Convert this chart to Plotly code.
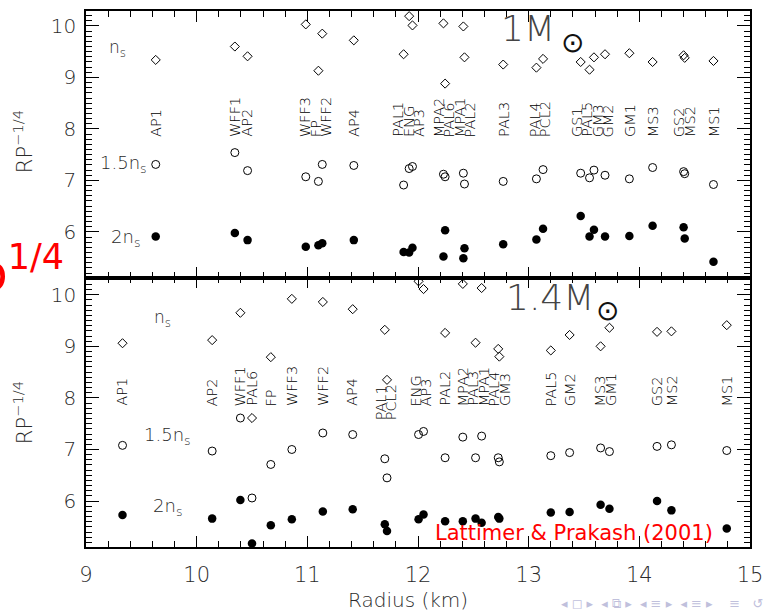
import plotly.graph_objects as go

# ---------------- data: 1 M_sun panel ----------------
names_1 = ["AP1", "WFF1", "AP2", "WFF3", "FP", "WFF2", "AP4", "PAL1", "ENG", "AP3",
           "MPA2", "PAL6", "MPA1", "PAL2", "PAL3", "PAL4", "PCL2", "GS1", "PAL5", "GM3",
           "GM2", "GM1", "MS3", "GS2", "MS2", "MS1"]
R_1 = [9.63, 10.345, 10.46, 10.986, 11.10, 11.135, 11.42, 11.87, 11.92, 11.95,
       12.23, 12.245, 12.41, 12.42, 12.77, 13.07, 13.13, 13.47, 13.55, 13.59,
       13.69, 13.91, 14.12, 14.40, 14.41, 14.67]
ns_1 = [9.34, 9.60, 9.41, 10.03, 9.13, 9.85, 9.72, 9.45, 10.19, 10.01,
        10.05, 8.88, 9.99, 9.39, 9.25, 9.19, 9.36, 9.30, 9.15, 9.39,
        9.45, 9.47, 9.30, 9.43, 9.38, 9.32]
n15_1 = [7.31, 7.54, 7.19, 7.07, 6.98, 7.31, 7.29, 6.91, 7.23, 7.27,
         7.12, 7.07, 7.14, 6.93, 6.98, 7.03, 7.21, 7.14, 7.05, 7.20,
         7.10, 7.03, 7.25, 7.17, 7.13, 6.92]
n2_1 = [5.91, 5.98, 5.84, 5.71, 5.74, 5.78, 5.84, 5.61, 5.60, 5.69,
        5.52, 6.03, 5.49, 5.68, 5.76, 5.85, 6.06, 6.31, 5.91, 6.04,
        5.91, 5.92, 6.12, 6.09, 5.87, 5.42]

# ---------------- data: 1.4 M_sun panel ----------------
names_2 = ["AP1", "AP2", "WFF1", "PAL6", "FP", "WFF3", "WFF2", "AP4", "PAL1", "PCL2",
           "ENG", "AP3", "PAL2", "MPA2", "PAL3", "MPA1", "PAL4", "GM3", "PAL5", "GM2",
           "MS3", "GM1", "GS2", "MS2", "MS1"]
R_2 = [9.33, 10.14, 10.395, 10.50, 10.67, 10.86, 11.14, 11.41, 11.70, 11.72,
       12.005, 12.05, 12.245, 12.405, 12.52, 12.575, 12.725, 12.735, 13.20, 13.37,
       13.65, 13.73, 14.16, 14.29, 14.79]
ns_2 = [9.06, 9.12, 9.65, 7.61, 8.79, 9.92, 9.86, 9.72, 9.32, 8.35,
        10.26, 10.11, 9.26, 10.21, 9.07, 10.13, 8.95, 8.80, 8.92, 9.22,
        9.00, 9.36, 9.28, 9.29, 9.41]
n15_2 = [7.08, 6.97, 7.61, 6.06, 6.71, 7.00, 7.32, 7.29, 6.82, 6.45,
         7.29, 7.35, 6.84, 7.24, 6.84, 7.26, 6.84, 6.76, 6.88, 6.94,
         7.03, 6.96, 7.06, 7.09, 6.98]
n2_2 = [5.73, 5.66, 6.02, 5.18, 5.53, 5.65, 5.80, 5.84, 5.55, 5.42,
        5.65, 5.74, 5.61, 5.61, 5.66, 5.58, 5.69, 5.66, 5.78, 5.79,
        5.93, 5.85, 6.00, 5.82, 5.47]

label_base = 7.8                       # label start (value of RP^-1/4)
label_base_override_2 = {"PAL1": 7.53, "PCL2": 7.53}

x_ticks = [9, 10, 11, 12, 13, 14, 15]
y_ticks = [6, 7, 8, 9, 10]

# ---------------- layout geometry ----------------
W, H = 772, 613
ML, MR, MT, MB = 86, 15, 9, 66
PW, PH = W - ML - MR, H - MT - MB
SPLIT = (H - MB - 276.7) / PH

FONT = "DejaVu Sans"
TXT = "#2a2a2a"
THIN = 200


def px(xp, yp):
    """pixel -> paper coordinates (for decorative text only)"""
    return (xp - ML) / PW, (H - MB - yp) / PH


def spread(xs, sep):
    """spread label positions so that neighbouring labels are at least sep apart"""
    order = sorted(range(len(xs)), key=lambda i: xs[i])
    clusters = []

    def pos(c):
        m = sum(xs[i] for i in c) / len(c)
        s = m - sep * (len(c) - 1) / 2
        return [s + k * sep for k in range(len(c))]

    for i in order:
        clusters.append([i])
        while len(clusters) > 1 and pos(clusters[-1])[0] - pos(clusters[-2])[-1] < sep * 0.999:
            b = clusters.pop()
            clusters[-1] = clusters[-1] + b
    out = [0.0] * len(xs)
    for c in clusters:
        for i, p in zip(c, pos(c)):
            out[i] = p
    return out


fig = go.Figure()

mk_d = dict(symbol="diamond-open", size=7, color="black", line=dict(width=1, color="black"))
mk_o = dict(symbol="circle-open", size=8, color="black", line=dict(width=1, color="black"))
mk_f = dict(symbol="circle", size=8.5, color="black", line=dict(width=0))

for R, a, b, c, xa, ya in [(R_1, ns_1, n15_1, n2_1, "x", "y"), (R_2, ns_2, n15_2, n2_2, "x2", "y2")]:
    for vals, mk in [(a, mk_d), (b, mk_o), (c, mk_f)]:
        fig.add_trace(go.Scatter(x=R, y=vals, mode="markers", marker=mk,
                                 xaxis=xa, yaxis=ya, showlegend=False, hoverinfo="skip"))

ann = []
sep = 0.094
for names, R, xref, yref, over in [(names_1, R_1, "x", "y", {}),
                                   (names_2, R_2, "x2", "y2", label_base_override_2)]:
    lx = spread(R, sep)
    for n, x in zip(names, lx):
        ann.append(dict(x=x, y=over.get(n, label_base), xref=xref, yref=yref, text=n,
                        textangle=-90, xanchor="center", yanchor="bottom", showarrow=False,
                        font=dict(family=FONT, size=14.5, color="#000000", weight=THIN)))


def txt(xp, yp, text, size, color=TXT, xanchor="center", yanchor="middle", angle=0, weight=THIN):
    x, y = px(xp, yp)
    f = dict(family=FONT, size=size, color=color)
    if weight:
        f["weight"] = weight
    ann.append(dict(x=x, y=y, xref="paper", yref="paper", text=text, showarrow=False,
                    xanchor=xanchor, yanchor=yanchor, textangle=angle, font=f))


# density labels
txt(118, 47, "n<sub>s</sub>", 17)
txt(124, 163, "1.5n<sub>s</sub>", 18)
txt(126, 237, "2n<sub>s</sub>", 18)
txt(163, 318, "n<sub>s</sub>", 17)
txt(168, 436, "1.5n<sub>s</sub>", 18)
txt(168, 507, "2n<sub>s</sub>", 18)
# mass labels
txt(562, 27, "1M", 36, color="#444444", xanchor="right")
txt(578, 41, "⊙", 28, color="#111111")
txt(601, 297, "1.4M", 36, color="#444444", xanchor="right")
txt(613, 310, "⊙", 28, color="#111111")
# axis titles
txt(22, 140, "RP<sup>−1/4</sup>", 21, angle=-90)
txt(22, 412, "RP<sup>−1/4</sup>", 21, angle=-90)
txt(411, 600, "Radius (km)", 20)
# citation
txt(579, 533, "Lattimer & Prakash (2001)", 21, color="#ff0000", weight=None)
# slide remnants
txt(66, 268, "p<sup>1/4</sup>", 50, color="#ff0000", xanchor="right", weight=None)
txt(772, 604, "◂ ◻ ▸  ◂ ⧉ ▸  ◂ ≡ ▸  ◂ ≡ ▸    ≡   ↺", 13, color="#c0c0dc", xanchor="right", weight=None)

ax_common = dict(showline=True, linewidth=1.5, linecolor="black", mirror="allticks",
                 ticks="inside", tickwidth=1, tickcolor="black", showgrid=False, zeroline=False)

xa = dict(ax_common, range=[9, 15], tickvals=x_ticks, ticklen=11,
          minor=dict(ticks="inside", dtick=0.2, tick0=9, ticklen=6, tickcolor="black", showgrid=False))
ya = dict(ax_common, tickvals=y_ticks, ticklen=13,
          minor=dict(ticks="inside", dtick=0.1, tick0=5, ticklen=6, tickcolor="black", showgrid=False),
          tickfont=dict(family=FONT, size=20, color=TXT, weight=THIN), ticklabelstandoff=4)

fig.update_layout(
    width=W, height=H, margin=dict(l=ML, r=MR, t=MT, b=MB),
    paper_bgcolor="white", plot_bgcolor="white",
    xaxis=dict(xa, anchor="y", domain=[0, 1], showticklabels=False, matches="x2"),
    xaxis2=dict(xa, anchor="y2", domain=[0, 1], showticklabels=True,
                tickfont=dict(family=FONT, size=21, color=TXT, weight=THIN), ticklabelstandoff=8),
    yaxis=dict(ya, anchor="x", domain=[SPLIT, 1], range=[5.11, 10.29]),
    yaxis2=dict(ya, anchor="x2", domain=[0, SPLIT], range=[5.11, 10.33]),
    annotations=ann,
)

fig.write_html("out.html")
